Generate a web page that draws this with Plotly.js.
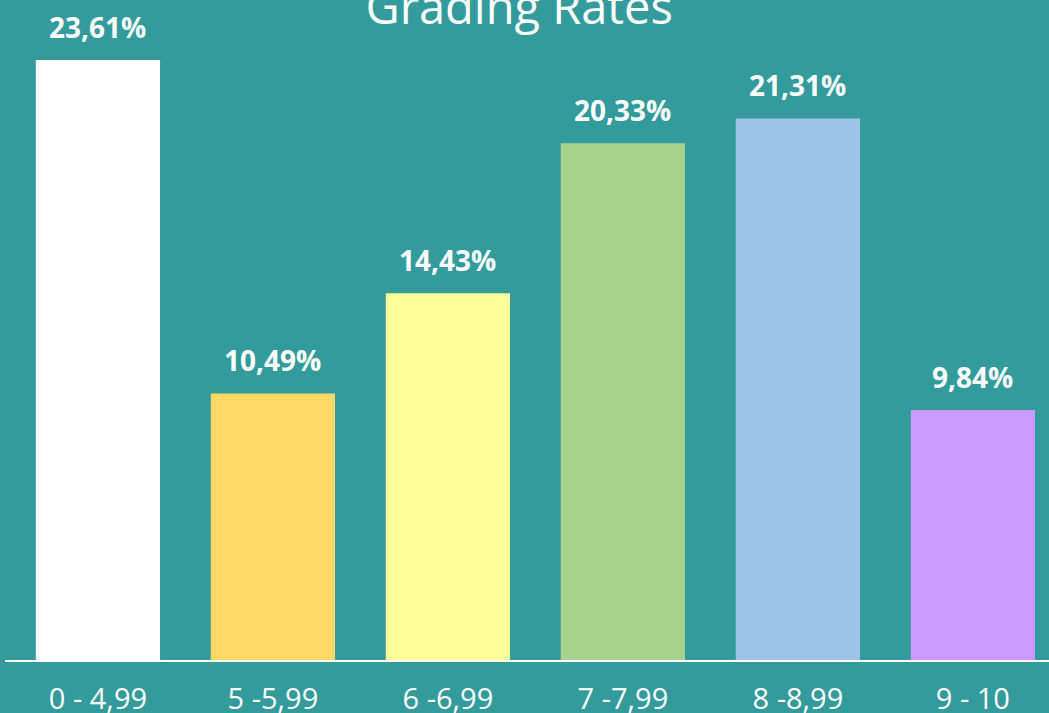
<!DOCTYPE html>
<html><head><meta charset="utf-8">
<script src="https://cdn.plot.ly/plotly-3.0.1.min.js"></script>
<style>html,body{margin:0;padding:0;background:#339B9B;}#chart{width:1049px;height:713px;}</style>
</head><body><div id="chart"></div>
<script>
const categories = ["0 - 4,99", "5 -5,99", "6 -6,99", "7 -7,99", "8 -8,99", "9 - 10"];
const values = [23.61, 10.49, 14.43, 20.33, 21.31, 9.84];
const valueLabels = ["23,61%", "10,49%", "14,43%", "20,33%", "21,31%", "9,84%"];
const barColors = ["#FFFFFF", "#FFD966", "#FFFF99", "#A9D18E", "#9DC3E6", "#CC99FF"];

const trace = {
  type: "bar",
  x: categories,
  y: values,
  marker: {color: barColors, line: {width: 0}},
  hoverinfo: "none"
};

const labelAnnotations = categories.map((c, i) => ({
  x: c, y: values[i], xref: "x", yref: "y",
  text: valueLabels[i], showarrow: false,
  xanchor: "center", yanchor: "bottom", yshift: 12,
  font: {family: "Open Sans, Noto Sans, sans-serif", size: 28, color: "#FFFFFF", weight: "bold"}
}));

const layout = {
  width: 1049, height: 713,
  paper_bgcolor: "#339B9B", plot_bgcolor: "#339B9B",
  margin: {l: 5, r: 0, t: 0, b: 53},
  bargap: 0.29,
  showlegend: false,
  title: {text: "Grading Rates", x: 0.495, xanchor: "center", yref: "container", y: 0.967, yanchor: "bottom",
          font: {family: "Open Sans, Noto Sans, sans-serif", size: 47, color: "#FFFFFF"}},
  annotations: labelAnnotations,
  xaxis: {
    type: "category",
    range: [-0.531, 5.435],
    showline: true, linecolor: "#FFFFFF", linewidth: 2,
    showgrid: false, zeroline: false,
    ticks: "outside", ticklen: 12, tickcolor: "rgba(0,0,0,0)",
    tickfont: {family: "Open Sans, Noto Sans, sans-serif", size: 29, color: "#FFFFFF"}
  },
  yaxis: {
    range: [0, 25.97],
    visible: false, showgrid: false, zeroline: false, fixedrange: true
  }
};

Plotly.newPlot("chart", [trace], layout, {displayModeBar: false, staticPlot: true});
</script></body></html>
